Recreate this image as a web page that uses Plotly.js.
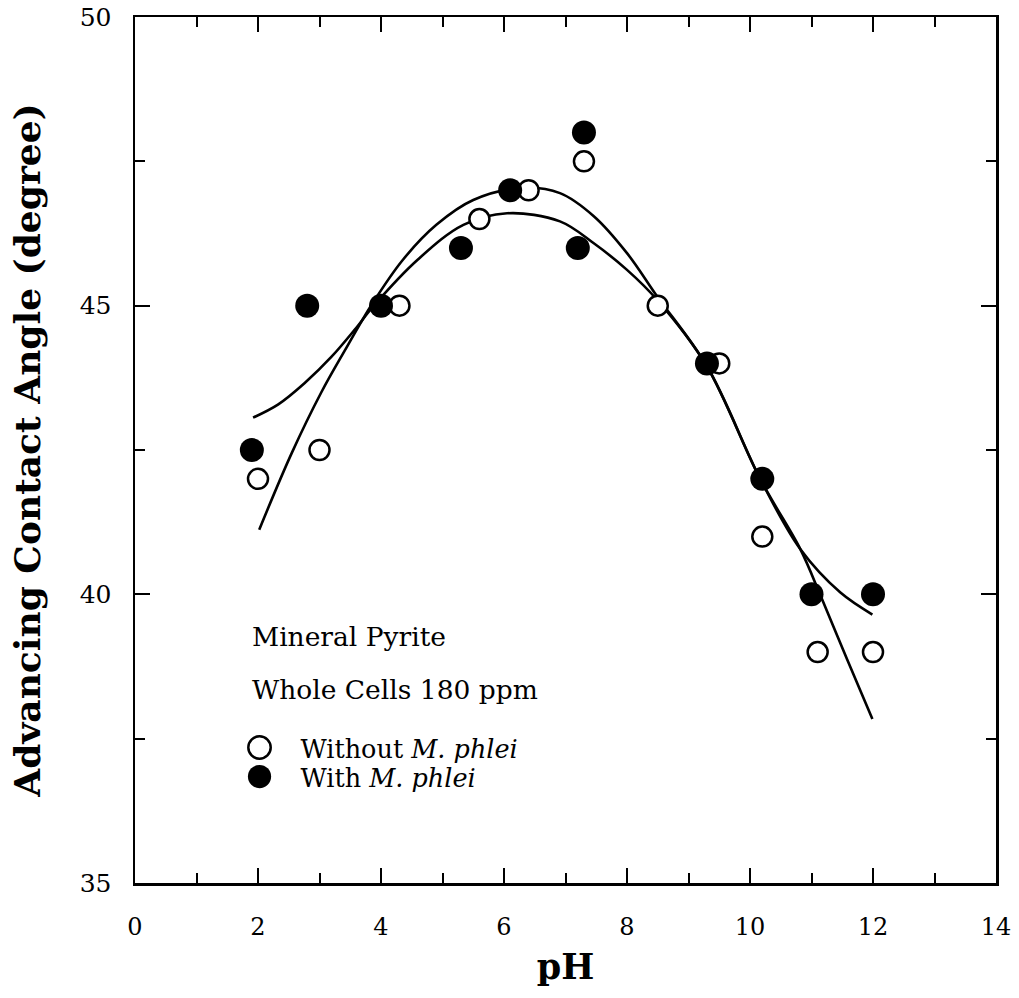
<!DOCTYPE html>
<html>
<head>
<meta charset="utf-8">
<script src="https://cdn.plot.ly/plotly-3.0.1.min.js"></script>
<style>
  html, body { margin: 0; padding: 0; background: #ffffff; }
  #chart { width: 1019px; height: 998px; }
</style>
</head>
<body>
<div id="chart"></div>
<script>
// Measured advancing contact angles on pyrite versus pH
const phWithout = [2.0, 3.0, 4.3, 5.6, 6.4, 7.3, 8.5, 9.5, 10.2, 11.1, 12.0];
const angleWithout = [42.0, 42.5, 45.0, 46.5, 47.0, 47.5, 45.0, 44.0, 41.0, 39.0, 39.0];

const phWith = [1.9, 2.8, 4.0, 5.3, 6.1, 7.2, 7.3, 9.3, 10.2, 11.0, 12.0];
const angleWith = [42.5, 45.0, 45.0, 46.0, 47.0, 46.0, 48.0, 44.0, 42.0, 40.0, 40.0];

// Smoothed trend curves traced through the data
const curveWithPH = [1.92, 2.33, 2.76, 3.2, 3.57, 3.9, 4.6, 5.34, 6.05, 6.91, 7.46, 8.0, 8.49, 9.3, 10.17, 10.82, 11.47, 11.99];
const curveWithAngle = [43.06, 43.29, 43.66, 44.12, 44.58, 45.02, 45.8, 46.4, 46.6, 46.46, 46.08, 45.62, 45.1, 43.95, 41.99, 40.78, 40.03, 39.65];

const curveWithoutPH = [2.02, 2.55, 3.03, 3.41, 3.85, 4.36, 4.9, 5.5, 6.3, 6.91, 7.46, 8.0, 8.49, 9.3, 10.17, 10.82, 11.15, 11.58, 11.99];
const curveWithoutAngle = [41.12, 42.45, 43.5, 44.22, 45.02, 45.8, 46.4, 46.83, 47.04, 46.95, 46.55, 45.91, 45.16, 43.95, 41.99, 40.78, 39.97, 38.87, 37.84];

const xTicks = [0, 2, 4, 6, 8, 10, 12, 14];
const yTicks = [35, 40, 45, 50];

const serif = 'DejaVu Serif, Liberation Serif, serif';
const ink = '#000000';

const traces = [
  {
    x: curveWithPH, y: curveWithAngle,
    type: 'scatter', mode: 'lines',
    line: { color: ink, width: 2.6, shape: 'spline', smoothing: 1 },
    showlegend: false, hoverinfo: 'skip'
  },
  {
    x: curveWithoutPH, y: curveWithoutAngle,
    type: 'scatter', mode: 'lines',
    line: { color: ink, width: 2.6, shape: 'spline', smoothing: 1 },
    showlegend: false, hoverinfo: 'skip'
  },
  {
    x: phWithout, y: angleWithout,
    type: 'scatter', mode: 'markers',
    name: 'Without <i>M. phlei</i>',
    marker: { symbol: 'circle', size: 20, color: '#ffffff', line: { color: ink, width: 2.5 } },
    legend: 'legend'
  },
  {
    x: phWith, y: angleWith,
    type: 'scatter', mode: 'markers',
    name: 'With <i>M. phlei</i>',
    marker: { symbol: 'circle', size: 24, color: ink, line: { color: ink, width: 0 } },
    legend: 'legend2'
  }
];

const legendBase = {
  xref: 'paper', yref: 'paper',
  xanchor: 'left', yanchor: 'middle',
  bgcolor: 'rgba(0,0,0,0)', borderwidth: 0,
  itemwidth: 72,
  font: { family: serif, size: 25.5, color: ink }
};

const labelFont = { family: serif, size: 26.5, color: ink };

const layout = {
  width: 1019, height: 998,
  paper_bgcolor: '#ffffff', plot_bgcolor: '#ffffff',
  margin: { l: 135, r: 23, t: 17, b: 115, pad: 0 },
  font: { family: serif, color: ink },
  xaxis: {
    range: [0, 14], tickvals: xTicks, ticktext: xTicks.map(String),
    ticks: 'inside', ticklen: 15, tickwidth: 2, tickcolor: ink,
    minor: { dtick: 1, tick0: 0, ticks: 'inside', ticklen: 10, tickwidth: 2, tickcolor: ink, showgrid: false },
    showline: true, linewidth: 2.5, linecolor: ink, mirror: 'ticks',
    showgrid: false, zeroline: false,
    tickfont: { family: serif, size: 24, color: ink },
    ticklabelstandoff: 21,
    title: { text: '<b>pH</b>', font: { family: serif, size: 35, color: ink }, standoff: 14 },
    automargin: false
  },
  yaxis: {
    range: [35, 50], tickvals: yTicks, ticktext: yTicks.map(String),
    ticks: 'inside', ticklen: 15, tickwidth: 2, tickcolor: ink,
    minor: { dtick: 2.5, tick0: 35, ticks: 'inside', ticklen: 10, tickwidth: 2, tickcolor: ink, showgrid: false },
    showline: true, linewidth: 2.5, linecolor: ink, mirror: 'ticks',
    showgrid: false, zeroline: false,
    tickfont: { family: serif, size: 25, color: ink },
    ticklabelstandoff: 16,
    title: { text: '<b>Advancing Contact Angle (degree)</b>', font: { family: serif, size: 36, color: ink }, standoff: 28 },
    automargin: false
  },
  showlegend: true,
  legend: Object.assign({}, legendBase, { x: 0.097, y: 0.1559 }),
  legend2: Object.assign({}, legendBase, { x: 0.097, y: 0.1224 }),
  annotations: [
    {
      text: 'Mineral Pyrite', xref: 'x', yref: 'y', x: 1.865, y: 39.27,
      xanchor: 'left', yanchor: 'middle', showarrow: false, font: labelFont
    },
    {
      text: 'Whole Cells 180 ppm', xref: 'x', yref: 'y', x: 1.865, y: 38.36,
      xanchor: 'left', yanchor: 'middle', showarrow: false, font: labelFont
    }
  ]
};

Plotly.newPlot('chart', traces, layout, { staticPlot: true, displayModeBar: false }).then(function (gd) {
  // Plotly caps legend symbols at 16px; enlarge them to the plotted marker size,
  // keeping the outline the same width as on the data markers.
  const sizes = { legend: 1.4, legend2: 1.45 };
  Object.keys(sizes).forEach(function (cls) {
    const k = sizes[cls];
    gd.querySelectorAll('g.' + cls + ' .legendpoints path.scatterpts').forEach(function (p) {
      const t = p.getAttribute('transform') || '';
      p.setAttribute('transform', t + ' scale(' + k + ')');
      const sw = parseFloat(p.style.strokeWidth) || 0;
      if (sw > 0) p.style.strokeWidth = (2.5 / k) + 'px';
    });
  });
});
</script>
</body>
</html>
